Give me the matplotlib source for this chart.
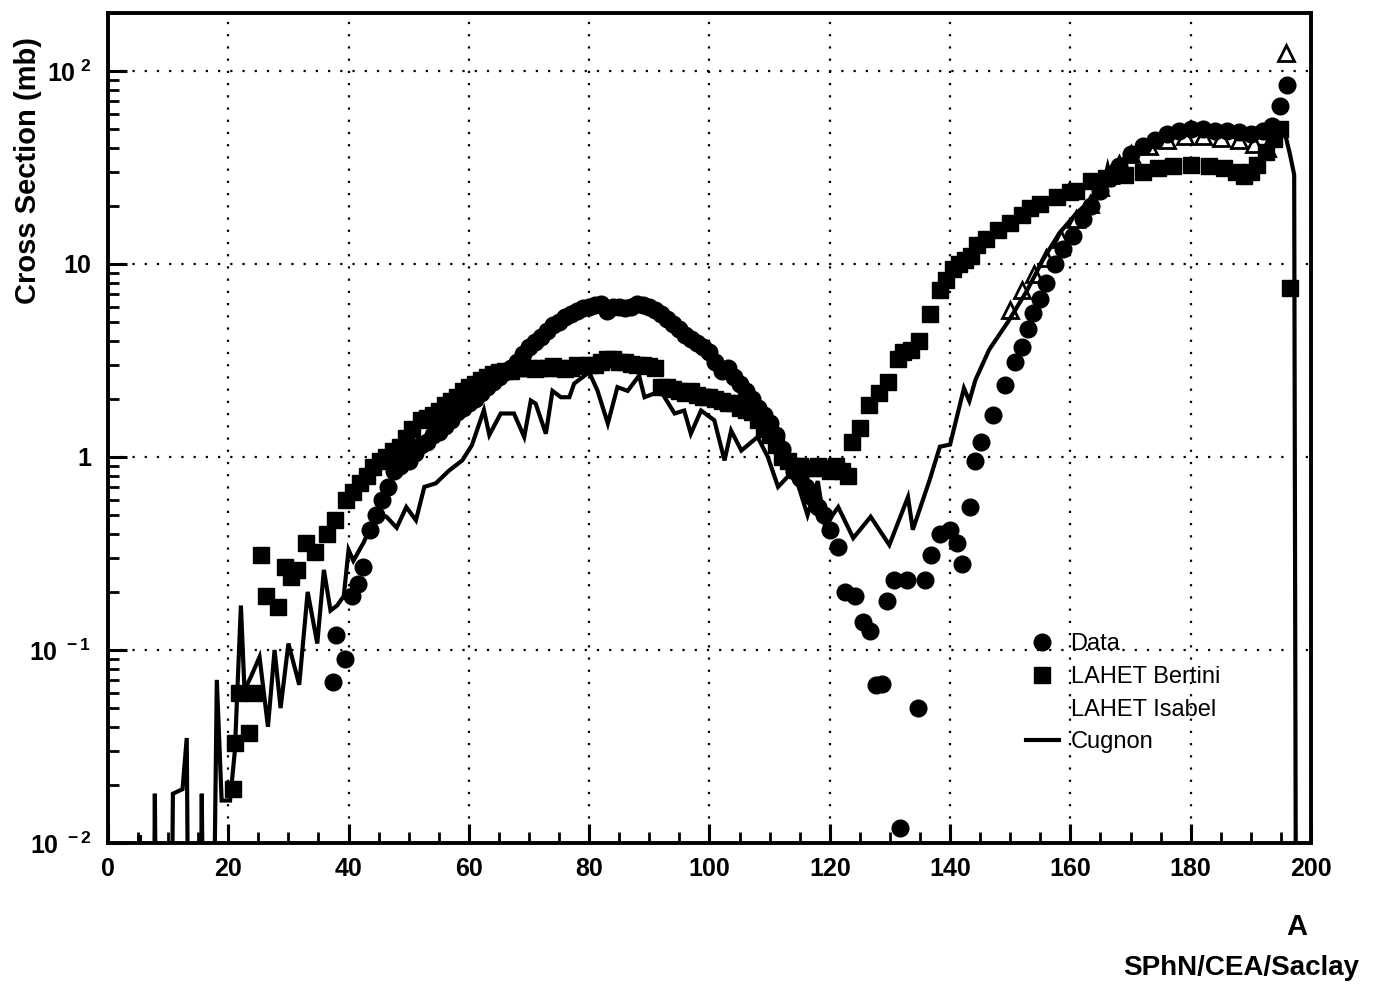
import numpy as np
import matplotlib
matplotlib.use("Agg")
import matplotlib.pyplot as plt
from matplotlib.lines import Line2D
from matplotlib.ticker import FixedLocator, FixedFormatter, LogLocator, NullFormatter, MultipleLocator

plt.rcParams['font.family'] = ['Liberation Sans', 'DejaVu Sans']
plt.rcParams['mathtext.fontset'] = 'custom'
plt.rcParams['mathtext.rm'] = 'Liberation Sans:bold'
plt.rcParams['mathtext.bf'] = 'Liberation Sans:bold'

# ---------------- data ----------------
data_x = [37.4, 37.9, 39.4, 40.5, 41.5, 42.4, 43.5, 44.5, 45.5, 46.5, 47.5, 48.5,
          50, 51, 52, 53, 54, 55, 56, 57, 58, 59, 60, 61, 62, 63, 64, 65, 66, 67, 68, 69,
          70, 71, 72, 73, 74, 75, 76, 77, 78, 79, 80, 81, 82, 83, 84, 85, 86, 87, 88, 89,
          90, 91, 92, 93, 94, 95, 96, 97, 98, 99, 100, 101, 102, 103, 104, 105, 106, 107,
          108, 109, 110, 111, 112, 113, 114, 115, 116, 117, 118, 119, 120, 121.4, 122.5,
          124.2, 125.6, 126.7, 127.6, 128.7, 129.5, 130.6, 131.7, 132.9, 134.6, 135.8,
          136.9, 138.3, 140.0, 141.1, 142.0, 143.3, 144.2, 145.2, 147.2, 149.1, 150.8,
          151.9, 153.0, 153.8, 154.9, 156.0, 157.4, 158.8, 160.4, 162.1, 163.5, 165,
          166.5, 168, 170, 172, 174, 176, 178, 180, 182, 184, 186, 188, 190, 192, 193.5,
          194.9, 196.0]
data_y = [0.068, 0.12, 0.09, 0.19, 0.22, 0.27, 0.42, 0.5, 0.6, 0.7, 0.85, 0.9,
          0.95, 1.05, 1.15, 1.2, 1.3, 1.35, 1.45, 1.55, 1.7, 1.8, 1.9, 2.0, 2.15, 2.3,
          2.45, 2.6, 2.75, 2.9, 3.1, 3.4, 3.7, 3.95, 4.2, 4.5, 4.8, 5.0, 5.3, 5.5, 5.7,
          5.9, 6.0, 6.1, 6.2, 5.7, 6.0, 6.0, 5.9, 6.0, 6.2, 6.1, 6.0, 5.8, 5.5, 5.2, 4.9,
          4.6, 4.3, 4.1, 3.9, 3.7, 3.5, 3.1, 2.8, 2.9, 2.6, 2.4, 2.2, 2.0, 1.8, 1.65,
          1.5, 1.3, 1.1, 0.95, 0.85, 0.78, 0.7, 0.62, 0.55, 0.5, 0.42, 0.34, 0.2,
          0.19, 0.14, 0.125, 0.066, 0.067, 0.18, 0.23, 0.012, 0.23, 0.05, 0.23,
          0.31, 0.4, 0.42, 0.36, 0.28, 0.55, 0.95, 1.2, 1.65, 2.35, 3.1,
          3.7, 4.6, 5.6, 6.6, 8.0, 10.0, 12.0, 14.0, 17.0, 20.0, 24.0,
          28.0, 32.0, 37.0, 41.0, 44.0, 47.0, 49.0, 50.0, 50.0, 49.0, 49.0, 48.0, 47.0, 49.0, 52.0,
          66.0, 85.0]

bertini_x = [20.8, 21.1, 21.8, 23.4, 24.2, 25.4, 26.3, 28.2, 29.5, 30.4, 31.5, 32.9,
             34.5, 36.4, 37.8, 39.5, 40.8, 41.9, 43.0, 44.1, 45.2, 46.3, 47.4, 48.5,
             49.5, 50.5, 52, 53, 54, 55, 56, 57, 58, 59, 60, 61, 62, 63, 64, 65, 66, 67,
             68, 69, 70, 71, 72, 73, 74, 75, 76, 77, 78, 79, 80, 81, 82, 83, 84, 85, 86,
             87, 88, 89, 90, 91, 92, 93, 94, 95, 96, 97, 98, 99, 100, 101, 102, 103, 104,
             105, 106, 107, 108, 109, 110, 111, 112, 113, 114, 115, 116, 117, 118, 119,
             120, 121, 122, 123, 123.7, 125, 126.5, 128.2, 129.6, 131.3, 132.1, 133.5,
             134.9, 136.6, 138.3, 139.4, 140.5, 141.5, 142.5, 143.5, 144.5, 146, 148,
             150, 152, 153.3, 155, 157.7, 160, 161, 163.5, 166, 169, 172, 174.5, 177,
             180, 183, 185.5, 187.5, 188.8, 190, 191, 192.5, 193.8, 194.9, 196.5]
bertini_y = [0.019, 0.033, 0.06, 0.037, 0.06, 0.31, 0.19, 0.167, 0.27, 0.24, 0.26, 0.36,
             0.32, 0.4, 0.47, 0.6, 0.66, 0.73, 0.8, 0.89, 0.95, 1.0, 1.07, 1.13,
             1.25, 1.4, 1.55, 1.6, 1.65, 1.74, 1.85, 1.95, 2.04, 2.2, 2.3, 2.4, 2.5, 2.6,
             2.7, 2.75, 2.8, 2.8, 2.9, 2.9, 2.9, 2.85, 2.9, 2.9, 2.95, 2.9, 2.85, 2.9,
             3.0, 2.95, 3.0, 3.0, 3.1, 3.2, 3.2, 3.1, 3.1, 3.05, 3.0, 3.0, 2.95, 2.9,
             2.3, 2.3, 2.25, 2.2, 2.15, 2.2, 2.1, 2.05, 2.05, 2.0, 1.95, 1.9, 1.9,
             1.8, 1.75, 1.7, 1.55, 1.4, 1.3, 1.15, 1.0, 0.95, 0.9, 0.9, 0.88, 0.88, 0.9,
             0.88, 0.85, 0.9, 0.85, 0.8, 1.19, 1.42, 1.87, 2.14, 2.45, 3.2, 3.5, 3.6,
             4.0, 5.5, 7.3, 8.3, 9.4, 10.0, 10.5, 11.0, 12.5, 13.5, 15.0,
             16.3, 18.0, 19.4, 20.5, 22.3, 23.5, 24.0, 26.8, 28.0, 29.0, 30.0, 31.3, 32.0,
             32.6, 32.0, 31.3, 30.0, 28.4, 30.0, 32.6, 38.0, 44.6, 50.0, 7.5]

isabel_x = [150, 152, 154, 156, 158.5, 161, 163.2, 165, 166.5, 168, 170, 173, 176,
            179, 182, 185, 188, 190.5, 192.7, 195.9]
isabel_y = [5.8, 7.3, 8.9, 10.8, 13.5, 17.0, 20.5, 25.0, 29.0, 33.0, 37.0, 41.0, 44.0,
            46.0, 46.0, 45.0, 44.0, 42.0, 40.0, 124.0]

cugnon_x = [0, 4.6, 5.3, 5.8, 7.3, 7.8, 8.4, 10.2, 10.8, 12.4, 13.1, 13.7, 15.0, 15.6,
            16.3, 17.0, 18.1, 18.9, 20.3, 21.1, 22.1, 22.7, 23.8, 25.2, 26.6, 27.7, 28.7,
            30.0, 31.8, 33.2, 34.8, 35.9, 37.0, 38.1, 39.2, 40.0, 40.8, 42.5, 44.7, 46.3,
            48.0, 49.6, 51.2, 52.6, 54.5, 56.7, 58.9, 60.5, 62.5, 63.4, 65.3, 67.5, 69.2,
            70.3, 71.1, 72.8, 73.9, 75.3, 76.7, 77.5, 80.0, 81.4, 83.1, 84.7, 86.4, 88.3,
            89.2, 91.9, 94.2, 95.8, 96.9, 98.6, 100.8, 102.5, 103.6, 105.3, 108.0, 109.7,
            111.4, 113.0, 114.1, 116.3, 118.0, 119.2, 121.4, 123.9, 126.8, 129.9, 133.0,
            133.8, 136.6, 138.3, 140.0, 142.3, 143.2, 144.2, 146.5, 149.6, 152.7, 155.5,
            158.2, 161.0, 162.7, 164.0, 165.5, 166.2, 166.8, 168.0, 170.0, 172.0, 175.0,
            178.0, 180.0, 183.0, 186.0, 189.0, 192.0, 194.0, 195.5, 196.5, 197.2, 197.6]
cugnon_y = [1e-4, 1e-4, 0.011, 1e-4, 1e-4, 0.018, 1e-4, 1e-4, 0.018, 0.019, 0.035, 1e-4,
            1e-4, 0.018, 1e-4, 1e-4, 0.07, 0.0166, 0.0166, 0.03, 0.17, 0.062, 0.073, 0.092,
            0.04, 0.1, 0.05, 0.108, 0.066, 0.2, 0.108, 0.26, 0.16, 0.17, 0.19, 0.33, 0.29,
            0.36, 0.51, 0.49, 0.43, 0.55, 0.47, 0.7, 0.73, 0.85, 0.96, 1.15, 1.75, 1.3,
            1.68, 1.68, 1.27, 1.96, 1.89, 1.32, 2.2, 2.04, 2.04, 2.4, 2.75, 2.2, 1.49, 2.3,
            2.2, 2.64, 2.04, 2.2, 1.68, 1.74, 1.32, 1.74, 1.55, 0.96, 1.37, 1.08, 1.27, 1.0,
            0.7, 0.79, 0.83, 0.5, 0.75, 0.44, 0.55, 0.38, 0.49, 0.35, 0.62, 0.42, 0.76,
            1.13, 1.16, 2.27, 1.95, 2.5, 3.6, 5.0, 7.2, 10.6, 14.5, 18.3, 20.5, 23.0, 26.0,
            32.0, 27.0, 33.0, 38.0, 42.0, 46.0, 49.0, 51.0, 51.0, 50.0, 49.0, 51.0, 54.0,
            50.0, 37.0, 29.0, 1e-4]

x_ticks = [0, 20, 40, 60, 80, 100, 120, 140, 160, 180, 200]
y_ticks = [0.01, 0.1, 1, 10, 100]
y_tick_labels = [r'$10^{\ -2}$', r'$10^{\ -1}$', '1', '10', r'$10^{\ 2}$']
legend_labels = ['Data', 'LAHET Bertini', 'LAHET Isabel', 'Cugnon']

# ---------------- figure ----------------
fig = plt.figure(figsize=(13.91, 9.90), dpi=100)
ax = fig.add_axes([0.0776, 0.1485, 0.8649, 0.8385])

ax.set_yscale('log')
ax.set_xlim(0, 200)
ax.set_ylim(0.01, 200)

ax.plot(isabel_x, isabel_y, ls='none', marker='^', ms=11, mfc='white', mec='black',
        mew=2.0, zorder=2)
ax.plot(bertini_x, bertini_y, ls='none', marker='s', ms=11, mfc='black', mec='black',
        zorder=3)
ax.plot(data_x, data_y, ls='none', marker='o', ms=12, mfc='black', mec='black', zorder=4)
ax.plot(cugnon_x, cugnon_y, color='black', lw=3.0, zorder=5, solid_joinstyle='miter')

# grid
ax.grid(True, which='major', color='black', linestyle=(0, (1, 4.5)), linewidth=1.6)

# ticks
ax.xaxis.set_major_locator(FixedLocator(x_ticks))
ax.xaxis.set_minor_locator(MultipleLocator(5))
ax.yaxis.set_major_locator(FixedLocator(y_ticks))
ax.yaxis.set_major_formatter(FixedFormatter(y_tick_labels))
ax.yaxis.set_minor_locator(LogLocator(base=10, subs=np.arange(2, 10)))
ax.yaxis.set_minor_formatter(NullFormatter())
ax.tick_params(which='major', direction='in', length=14, width=2.2, labelsize=18,
               top=False, right=False)
ax.tick_params(which='minor', direction='in', length=8, width=2.0, top=False, right=False)
ax.tick_params(axis='x', which='major', pad=10)
ax.tick_params(axis='y', which='major', pad=12)
for lab in ax.get_xticklabels() + ax.get_yticklabels():
    lab.set_fontweight('bold')

for sp in ax.spines.values():
    sp.set_linewidth(2.8)

# legend
handles = [
    Line2D([], [], ls='none', marker='o', ms=12, mfc='black', mec='black'),
    Line2D([], [], ls='none', marker='s', ms=11, mfc='black', mec='black'),
    Line2D([], [], ls='none', marker='^', ms=11, mfc='white', mec='white'),
    Line2D([], [], color='black', lw=3.0),
]
leg = ax.legend(handles, legend_labels, loc='upper left', bbox_to_anchor=(0.755, 0.264),
                frameon=False, fontsize=17, handlelength=1.4, handletextpad=0.5,
                labelspacing=0.45, borderaxespad=0.0)

# axis labels / annotations
fig.text(0.020, 0.828, 'Cross Section (mb)', rotation=90, ha='center', va='center',
         fontsize=21, fontweight='bold')
fig.text(0.932, 0.064, 'A', ha='center', va='center', fontsize=21, fontweight='bold')
fig.text(0.892, 0.022, 'SPhN/CEA/Saclay', ha='center', va='center', fontsize=20,
         fontweight='bold')

fig.savefig('out.png', dpi=100)
